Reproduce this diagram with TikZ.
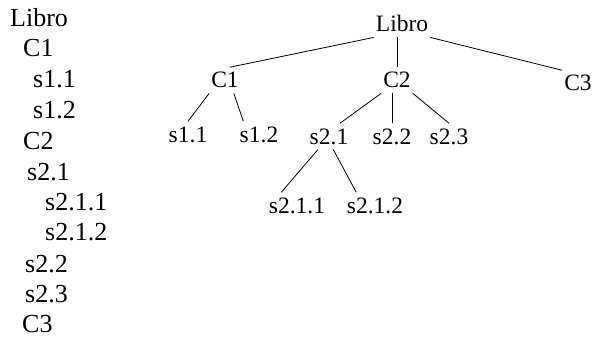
\documentclass[tikz,border=0pt]{standalone}
\usepackage{fontspec}
\setmainfont{Liberation Serif}
\usetikzlibrary{positioning}

\begin{document}
\begin{tikzpicture}[
  x=1pt, y=1pt,
  lst/.style ={anchor=base west, inner sep=0pt,
               font=\fontsize{26}{30}\selectfont},
  tn/.style  ={anchor=base, inner xsep=2pt, inner ysep=5pt,
               font=\fontsize{23.5}{28}\selectfont},
  link/.style={draw=black, line width=0.8pt},
]
\useasboundingbox (0,0) rectangle (596,-342);

% Indented outline on the left
\node[lst] (lLibro) at (10,-27)  {Libro};
\node[lst] (lC1)    at (23,-57)  {C1};
\node[lst] (ls11)   at (33,-88)  {s1.1};
\node[lst] (ls12)   at (33,-118) {s1.2};
\node[lst] (lC2)    at (23,-149) {C2};
\node[lst] (ls21)   at (27,-180) {s2.1};
\node[lst] (ls211)  at (45,-210) {s2.1.1};
\node[lst] (ls212)  at (45,-240) {s2.1.2};
\node[lst] (ls22)   at (25,-272) {s2.2};
\node[lst] (ls23)   at (25,-302) {s2.3};
\node[lst] (lC3)    at (22,-332) {C3};

% Same structure as a tree
\node[tn] (tLibro) at (402,-32)  {Libro};
\node[tn] (tC1)    at (225,-88)  {C1};
\node[tn] (tC2)    at (397,-88)  {C2};
\node[tn] (tC3)    at (578,-91)  {C3};
\node[tn] (ts11)   at (188,-142) {s1.1};
\node[tn] (ts12)   at (259,-142) {s1.2};
\node[tn] (ts21)   at (329,-144) {s2.1};
\node[tn] (ts22)   at (392,-144) {s2.2};
\node[tn] (ts23)   at (449,-144) {s2.3};
\node[tn] (ts211)  at (297,-213) {s2.1.1};
\node[tn] (ts212)  at (375,-213) {s2.1.2};

% Libro -> chapters
\draw[link] (tLibro.south west) -- (tC1.70);
\draw[link] (tLibro.south -| tC2.north) -- (tC2.north);
\draw[link] (tLibro.south east) -- (tC3.north west);

% C1 -> sections
\draw[link] (tC1.south west) -- (ts11.north);
\draw[link] (tC1.-56) -- (ts12.140);

% C2 -> sections
\draw[link] (tC2.south west) -- (ts21.50);
\draw[link] (tC2.south -| ts22.north) -- (ts22.north);
\draw[link] (tC2.south east) -- (ts23.north);

% s2.1 -> subsections
\draw[link] (ts21.-130) -- (ts211.140);
\draw[link] (ts21.-72) -- (ts212.145);

\end{tikzpicture}
\end{document}
